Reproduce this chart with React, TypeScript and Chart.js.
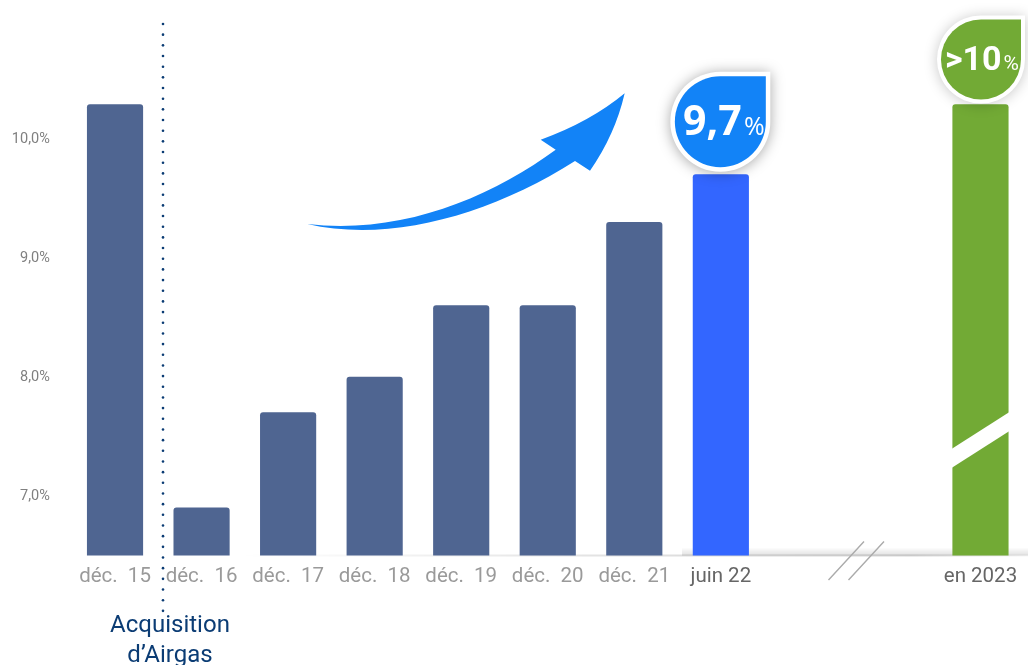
import React, { useEffect, useRef } from "react";
import { Chart, registerables } from "chart.js";

Chart.register(...registerables);

const categories = ["déc.  15", "déc.  16", "déc.  17", "déc.  18", "déc.  19", "déc.  20", "déc.  21", "juin 22", "", "", "en 2023"];
const values = [10.29, 6.9, 7.7, 8.0, 8.6, 8.6, 9.3, 9.7, null, null, 10.29];
const barColors = ["#4F6591", "#4F6591", "#4F6591", "#4F6591", "#4F6591", "#4F6591", "#4F6591", "#3366FF", "#4F6591", "#4F6591", "#72AA35"];
const labelColors = ["#9A9A9A", "#9A9A9A", "#9A9A9A", "#9A9A9A", "#9A9A9A", "#9A9A9A", "#9A9A9A", "#666666", "#666666", "#666666", "#666666"];
const yTicks = [7, 8, 9, 10];

const dropPath = (ctx: CanvasRenderingContext2D, cx: number, cy: number, r: number) => {
  ctx.beginPath();
  ctx.arc(cx, cy, r, -Math.PI / 2, 0, true);
  ctx.lineTo(cx + r, cy - r);
  ctx.closePath();
};

const drawBubble = (
  ctx: CanvasRenderingContext2D,
  cx: number,
  cy: number,
  r: number,
  border: number,
  color: string,
  shadow: string,
) => {
  ctx.save();
  ctx.shadowColor = shadow;
  ctx.shadowBlur = 14;
  ctx.shadowOffsetY = 1;
  ctx.fillStyle = "#FFFFFF";
  dropPath(ctx, cx, cy, r + border);
  ctx.fill();
  ctx.restore();
  ctx.fillStyle = color;
  dropPath(ctx, cx, cy, r);
  ctx.fill();
};

const decorations = {
  id: "decorations",
  beforeDatasetsDraw(chart: any) {
    const ctx: CanvasRenderingContext2D = chart.ctx;
    const base = chart.scales.y.getPixelForValue(6.5);
    ctx.save();
    const fade = ctx.createLinearGradient(240, 0, 1028, 0);
    fade.addColorStop(0, "rgba(0,0,0,0)");
    fade.addColorStop(0.5, "rgba(0,0,0,0.12)");
    fade.addColorStop(0.85, "rgba(0,0,0,0.16)");
    fade.addColorStop(1, "rgba(0,0,0,0.03)");
    ctx.fillStyle = fade;
    ctx.fillRect(240, base - 1, 788, 2);
    const band = ctx.createLinearGradient(0, base - 8, 0, base);
    band.addColorStop(0, "rgba(0,0,0,0)");
    band.addColorStop(1, "rgba(0,0,0,0.12)");
    ctx.fillStyle = band;
    ctx.fillRect(682, base - 8, 346, 8);
    ctx.restore();
  },
  afterDatasetsDraw(chart: any) {
    const ctx: CanvasRenderingContext2D = chart.ctx;
    const x = chart.scales.x;
    const y = chart.scales.y;
    const blueX = x.getPixelForValue(7);
    const greenX = x.getPixelForValue(10);
    const blueTop = y.getPixelForValue(values[7] as number);
    const greenTop = y.getPixelForValue(values[10] as number);

    ctx.save();
    // white cut through the last bar
    ctx.fillStyle = "#FFFFFF";
    ctx.beginPath();
    ctx.moveTo(greenX - 29, 449);
    ctx.lineTo(greenX + 29, 412);
    ctx.lineTo(greenX + 29, 431);
    ctx.lineTo(greenX - 29, 468);
    ctx.closePath();
    ctx.fill();

    // dotted separator
    ctx.fillStyle = "#0B3C74";
    for (let py = 24; py < 614; py += 10.67) {
      ctx.beginPath();
      ctx.arc(163, py, 1.3, 0, Math.PI * 2);
      ctx.fill();
    }

    // axis break
    ctx.strokeStyle = "#ABABAB";
    ctx.lineWidth = 1.4;
    ctx.beginPath();
    ctx.moveTo(828.5, 580);
    ctx.lineTo(864, 541.5);
    ctx.moveTo(848.5, 580);
    ctx.lineTo(884, 541.5);
    ctx.stroke();

    // growth arrow
    ctx.fillStyle = "#1283F7";
    ctx.beginPath();
    ctx.moveTo(307.3, 224);
    ctx.bezierCurveTo(400, 235, 490, 198, 555.7, 149.7);
    ctx.lineTo(540.7, 139.7);
    ctx.quadraticCurveTo(590, 122, 624.7, 93.3);
    ctx.quadraticCurveTo(615, 135, 590, 170.7);
    ctx.lineTo(575, 161);
    ctx.bezierCurveTo(490, 215, 390, 243, 307.3, 224);
    ctx.closePath();
    ctx.fill();

    // bubbles
    drawBubble(ctx, blueX - 0.5, blueTop - 53, 45.5, 4.5, "#1283F7", "rgba(0,0,0,0.35)");
    drawBubble(ctx, greenX + 0.5, greenTop - 45, 40, 4, "#72AA35", "rgba(0,0,0,0.22)");

    ctx.fillStyle = "#FFFFFF";
    ctx.textBaseline = "alphabetic";
    ctx.textAlign = "left";
    ctx.font = "700 41px 'Open Sans'";
    ctx.fillText("9,7", 683, 135);
    ctx.font = "400 25px 'Open Sans'";
    ctx.fillText("%", 744, 135);
    ctx.font = "700 34px Roboto";
    ctx.fillText(">10", 945, 70);
    ctx.font = "400 21px Roboto";
    ctx.fillText("%", 1003.5, 70);

    // annotation
    ctx.fillStyle = "#0B3C74";
    ctx.textAlign = "center";
    ctx.font = "400 24px Roboto";
    ctx.fillText("Acquisition", 170, 632);
    ctx.fillText("d’Airgas", 170, 662);
    ctx.restore();
  },
};

export default function App() {
  const ref = useRef<HTMLCanvasElement>(null);
  useEffect(() => {
    const chart = new Chart(ref.current as HTMLCanvasElement, {
      type: "bar",
      data: {
        labels: categories,
        datasets: [
          {
            data: values,
            backgroundColor: barColors,
            barThickness: 55.5,
            borderRadius: { topLeft: 3, topRight: 3, bottomLeft: 0, bottomRight: 0 },
            borderSkipped: false,
          },
        ],
      },
      plugins: [decorations],
      options: {
        animation: false,
        responsive: false,
        layout: { autoPadding: false, padding: { left: 0, right: 4.25, top: 0, bottom: 0 } },
        plugins: { legend: { display: false }, tooltip: { enabled: false }, title: { display: false } },
        scales: {
          x: {
            offset: true,
            grid: { display: false, drawTicks: false },
            border: { display: false },
            afterFit(scale: any) {
              scale.height = 109.5;
              scale.paddingLeft = 0;
              scale.paddingRight = 0;
            },
            ticks: {
              autoSkip: false,
              maxRotation: 0,
              padding: 9,
              color: labelColors,
              font: { family: "Roboto", size: 20.5 },
            },
          },
          y: {
            min: 6.5,
            max: 11.168,
            grid: { display: false, drawTicks: false },
            border: { display: false },
            afterFit(scale: any) {
              scale.width = 71.75;
              scale.paddingTop = 0;
              scale.paddingBottom = 0;
            },
            afterBuildTicks(scale: any) {
              scale.ticks = yTicks.map((value) => ({ value }));
            },
            ticks: {
              padding: 22,
              color: "#808080",
              font: { family: "Roboto", size: 14.5 },
              callback: (v: any) => Number(v).toFixed(1).replace(".", ",") + "%",
            },
          },
        },
      },
    } as any);
    return () => chart.destroy();
  }, []);
  return (
    <div style={{ position: "fixed", left: 0, top: 0, width: 1028, height: 665, background: "#fff" }}>
      <canvas ref={ref} width={1028} height={665} style={{ display: "block", width: 1028, height: 665 }} />
    </div>
  );
}
